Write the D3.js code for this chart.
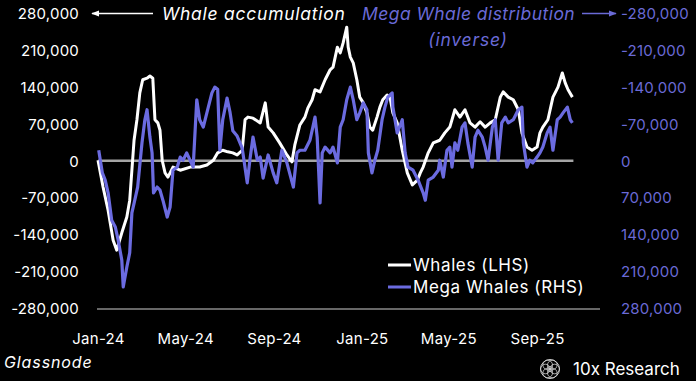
<!DOCTYPE html>
<html><head><meta charset="utf-8">
<script src="https://cdn.jsdelivr.net/npm/d3@7"></script>
<style>
html,body{margin:0;padding:0;background:#000;}
svg{display:block;}
text{font-family:"Inter","Noto Sans",sans-serif;}
</style></head><body>
<svg id="c" width="696" height="381"></svg>
<script>
// ---- data ----
const whaleDates = ["2024-01-01","2024-01-08","2024-01-15","2024-01-22","2024-01-27","2024-02-03","2024-02-10","2024-02-14","2024-02-20","2024-02-24","2024-02-28","2024-03-03","2024-03-09","2024-03-13","2024-03-17","2024-03-20","2024-03-24","2024-03-27","2024-03-30","2024-04-03","2024-04-07","2024-04-14","2024-04-24","2024-05-08","2024-05-21","2024-05-31","2024-06-09","2024-06-15","2024-06-22","2024-06-29","2024-07-06","2024-07-12","2024-07-19","2024-07-23","2024-07-27","2024-08-03","2024-08-13","2024-08-20","2024-08-24","2024-08-31","2024-09-09","2024-09-19","2024-09-26","2024-09-30","2024-10-07","2024-10-14","2024-10-18","2024-10-24","2024-10-28","2024-11-04","2024-11-11","2024-11-18","2024-11-22","2024-11-28","2024-12-02","2024-12-06","2024-12-11","2024-12-13","2024-12-16","2024-12-20","2024-12-25","2024-12-29","2025-01-03","2025-01-08","2025-01-12","2025-01-16","2025-01-22","2025-01-26","2025-01-30","2025-02-05","2025-02-09","2025-02-13","2025-02-19","2025-02-26","2025-03-05","2025-03-12","2025-03-19","2025-03-23","2025-03-27","2025-04-03","2025-04-10","2025-04-19","2025-04-26","2025-05-03","2025-05-10","2025-05-17","2025-05-24","2025-05-31","2025-06-07","2025-06-14","2025-06-21","2025-06-28","2025-07-05","2025-07-12","2025-07-16","2025-07-23","2025-07-30","2025-08-06","2025-08-11","2025-08-18","2025-08-25","2025-09-01","2025-09-05","2025-09-09","2025-09-16","2025-09-23","2025-09-30","2025-10-06","2025-10-10","2025-10-14","2025-10-20"];
const whaleValues = [1000,-50000,-94000,-151000,-170000,-137000,-107000,-75000,39000,78000,129000,154000,157000,161000,157000,78000,72000,58000,1000,-23000,-31000,-12000,-18000,-12000,-12000,-8000,1000,15000,20000,17000,15000,11000,20000,78000,83000,81000,72000,110000,64000,53000,34000,11000,-2000,30000,68000,83000,100000,116000,135000,131000,154000,173000,178000,216000,205000,224000,254000,216000,197000,186000,154000,121000,110000,91000,64000,58000,83000,102000,116000,125000,121000,91000,72000,20000,-23000,-46000,-37000,-23000,-12000,15000,34000,39000,53000,64000,97000,83000,97000,72000,64000,74000,64000,72000,78000,121000,131000,121000,116000,97000,53000,26000,20000,26000,53000,64000,78000,121000,140000,167000,148000,135000,121000];

const megaDates = ["2024-01-02","2024-01-07","2024-01-11","2024-01-15","2024-01-20","2024-01-25","2024-01-29","2024-02-03","2024-02-05","2024-02-10","2024-02-14","2024-02-17","2024-02-21","2024-02-25","2024-03-02","2024-03-06","2024-03-09","2024-03-13","2024-03-16","2024-03-18","2024-03-23","2024-03-27","2024-03-31","2024-04-06","2024-04-10","2024-04-14","2024-04-20","2024-04-24","2024-04-28","2024-05-03","2024-05-12","2024-05-17","2024-05-21","2024-05-26","2024-05-31","2024-06-07","2024-06-11","2024-06-15","2024-06-18","2024-06-22","2024-06-28","2024-07-02","2024-07-06","2024-07-12","2024-07-19","2024-07-26","2024-07-30","2024-08-03","2024-08-09","2024-08-13","2024-08-17","2024-08-24","2024-08-31","2024-09-05","2024-09-12","2024-09-19","2024-09-28","2024-10-03","2024-10-07","2024-10-14","2024-10-21","2024-10-28","2024-10-31","2024-11-04","2024-11-07","2024-11-11","2024-11-18","2024-11-22","2024-11-28","2024-12-02","2024-12-06","2024-12-11","2024-12-16","2024-12-20","2024-12-25","2024-12-29","2025-01-03","2025-01-08","2025-01-10","2025-01-15","2025-01-19","2025-01-23","2025-01-29","2025-02-02","2025-02-06","2025-02-12","2025-02-13","2025-02-19","2025-02-26","2025-03-02","2025-03-06","2025-03-13","2025-03-20","2025-03-27","2025-03-30","2025-04-03","2025-04-10","2025-04-17","2025-04-19","2025-04-24","2025-04-29","2025-05-03","2025-05-06","2025-05-10","2025-05-14","2025-05-20","2025-05-24","2025-05-28","2025-06-03","2025-06-07","2025-06-11","2025-06-17","2025-06-21","2025-06-25","2025-07-01","2025-07-05","2025-07-09","2025-07-14","2025-07-19","2025-07-23","2025-07-30","2025-08-06","2025-08-11","2025-08-13","2025-08-18","2025-08-22","2025-08-26","2025-09-01","2025-09-05","2025-09-09","2025-09-15","2025-09-19","2025-09-23","2025-09-29","2025-10-03","2025-10-07","2025-10-13","2025-10-17","2025-10-20"];
const megaValues = [-20000,23000,37000,61000,113000,126000,151000,189000,240000,202000,175000,99000,75000,50000,-34000,-78000,-97000,-45000,-15000,61000,50000,56000,75000,107000,88000,18000,12000,-7000,-1000,-15000,12000,-116000,-78000,-64000,-91000,-129000,-140000,-136000,-20000,-78000,-119000,-93000,-57000,-47000,-24000,42000,-5000,-45000,-1000,-7000,33000,-11000,23000,42000,-20000,4000,50000,-15000,-20000,-20000,-39000,-83000,-45000,80000,-15000,-26000,-15000,-26000,4000,-64000,-78000,-116000,-140000,-116000,-78000,-91000,-110000,-97000,-15000,23000,-1000,-20000,-78000,-102000,-121000,-129000,-102000,-53000,-78000,-15000,12000,18000,37000,61000,75000,37000,31000,18000,-1000,31000,-20000,-26000,12000,-34000,-20000,-64000,-72000,-34000,12000,-45000,-58000,-45000,-26000,-1000,-64000,-78000,-1000,-72000,-83000,-72000,-78000,-97000,-102000,-34000,12000,-1000,4000,-7000,-15000,-26000,-53000,-64000,-20000,-78000,-83000,-91000,-102000,-78000,-72000];

const yTickValues = [280000,210000,140000,70000,0,-70000,-140000,-210000,-280000];
const xTickDates = ["2024-01-01","2024-05-01","2024-09-01","2025-01-01","2025-05-01","2025-09-01"];
const xTickLabels = ["Jan-24","May-24","Sep-24","Jan-25","May-25","Sep-25"];
const seriesNames = ["Whales (LHS)","Mega Whales (RHS)"];

// ---- drawing ----
const WHITE = "#ffffff", BLUE = "#6b6be0", BLUE_TXT = "#6a6ad6";
const parse = d3.timeParse("%Y-%m-%d");
const svg = d3.select("#c");
svg.append("rect").attr("width",696).attr("height",381).attr("fill","#000");

const x = d3.scaleTime().domain([parse("2024-01-01"), parse("2025-10-20")]).range([98, 572.4]);
const yL = d3.scaleLinear().domain([-280000,280000]).range([308,13.5]);
const yR = d3.scaleLinear().domain([-280000,280000]).range([13.5,308]);

const fmt = d3.formatLocale({decimal:".",thousands:",",grouping:[3],currency:["$",""],minus:"-"}).format(",");

// bottom baseline
svg.append("line").attr("x1",97).attr("x2",600).attr("y1",309).attr("y2",309)
  .attr("stroke","#8a8a8a").attr("stroke-width",1.5);

// left axis
const gl = svg.append("g").attr("transform","translate(79,0)")
  .call(d3.axisLeft(yL).tickValues(yTickValues).tickFormat(fmt).tickSize(0).tickPadding(0));
gl.select(".domain").remove();
gl.selectAll("text").attr("fill",WHITE).style("font-size","15px").style("letter-spacing","0.2px").attr("dy","0.35em");

// right axis
const gr = svg.append("g").attr("transform","translate(621,0)")
  .call(d3.axisRight(yR).tickValues(yTickValues).tickFormat(fmt).tickSize(0).tickPadding(0));
gr.select(".domain").remove();
gr.selectAll("text").attr("fill",BLUE_TXT).style("font-size","15px").style("letter-spacing","0.2px").attr("dy","0.35em");

// x axis
const gx = svg.append("g").attr("transform","translate(0,326)")
  .call(d3.axisBottom(x).tickValues(xTickDates.map(parse)).tickFormat((d,i)=>xTickLabels[i]).tickSize(0).tickPadding(7));
gx.select(".domain").remove();
gx.selectAll("text").attr("fill",WHITE).style("font-size","15px").style("letter-spacing","0.3px");

// zero line
svg.append("line").attr("x1",x(parse("2024-01-01"))).attr("x2",x(parse("2025-10-20"))+1)
  .attr("y1",yL(0)).attr("y2",yL(0)).attr("stroke","#a5a5a5").attr("stroke-width",2.5);

const whale = whaleDates.map((d,i)=>({date:parse(d), v:whaleValues[i]}));
const mega = megaDates.map((d,i)=>({date:parse(d), v:megaValues[i]}));

svg.append("path").datum(whale).attr("fill","none").attr("stroke",WHITE).attr("stroke-width",3)
  .attr("stroke-linejoin","round").attr("d",d3.line().x(d=>x(d.date)).y(d=>yL(d.v)));
svg.append("path").datum(mega).attr("fill","none").attr("stroke",BLUE).attr("stroke-width",3.2)
  .attr("stroke-linejoin","round").attr("d",d3.line().x(d=>x(d.date)).y(d=>yR(d.v)));

// header annotations
const defs = svg.append("defs");
defs.append("marker").attr("id","ahW").attr("viewBox","0 0 10 10").attr("refX",9).attr("refY",5)
  .attr("markerWidth",6).attr("markerHeight",6).attr("orient","auto")
  .append("path").attr("d","M0,1 L10,5 L0,9 Z").attr("fill",WHITE);
defs.append("marker").attr("id","ahB").attr("viewBox","0 0 10 10").attr("refX",9).attr("refY",5)
  .attr("markerWidth",6).attr("markerHeight",6).attr("orient","auto")
  .append("path").attr("d","M0,1 L10,5 L0,9 Z").attr("fill",BLUE_TXT);

svg.append("line").attr("x1",153).attr("x2",92).attr("y1",13.5).attr("y2",13.5)
  .attr("stroke",WHITE).attr("stroke-width",1.3).attr("marker-end","url(#ahW)");
svg.append("text").attr("x",162).attr("y",20).attr("fill",WHITE).style("font-size","17.5px")
  .style("letter-spacing","0.75px").style("font-style","italic").text("Whale accumulation");

svg.append("text").attr("x",362).attr("y",20).attr("fill",BLUE_TXT).style("font-size","17.5px")
  .style("letter-spacing","0.45px").style("font-style","italic").text("Mega Whale distribution");
svg.append("text").attr("x",468).attr("y",46).attr("fill",BLUE_TXT).style("font-size","17.5px")
  .style("letter-spacing","0.8px").style("font-style","italic").attr("text-anchor","middle").text("(inverse)");
svg.append("line").attr("x1",582).attr("x2",616).attr("y1",13.5).attr("y2",13.5)
  .attr("stroke",BLUE_TXT).attr("stroke-width",1.3).attr("marker-end","url(#ahB)");

// legend
const legend = svg.append("g");
[[WHITE,265],[BLUE,287]].forEach((c,i)=>{
  legend.append("line").attr("x1",388).attr("x2",411).attr("y1",c[1]).attr("y2",c[1])
    .attr("stroke",c[0]).attr("stroke-width",3);
  legend.append("text").attr("x",413).attr("y",c[1]).attr("dy","0.35em").attr("fill",WHITE)
    .style("font-size","17px").style("letter-spacing","0.6px").text(seriesNames[i]);
});

// footer
svg.append("text").attr("x",4).attr("y",368).attr("fill",WHITE).style("font-size","16px")
  .style("letter-spacing","0.9px").style("font-style","italic").text("Glassnode");

const logo = svg.append("g").attr("transform","translate(550,369)");
logo.append("circle").attr("r",9.5).attr("fill","none").attr("stroke","#d0d0d0").attr("stroke-width",1);
d3.range(6).forEach(k=>{
  const a = k*Math.PI/3;
  logo.append("circle").attr("cx",4.6*Math.cos(a)).attr("cy",4.6*Math.sin(a)).attr("r",4.8)
    .attr("fill","none").attr("stroke","#d0d0d0").attr("stroke-width",0.8);
});
logo.append("rect").attr("x",-2.2).attr("y",-2.2).attr("width",4.4).attr("height",4.4)
  .attr("fill","none").attr("stroke","#d0d0d0").attr("stroke-width",0.8);
svg.append("text").attr("x",573).attr("y",369).attr("dy","0.35em").attr("fill",WHITE)
  .style("font-size","17px").text("10x Research");
</script>
</body></html>
